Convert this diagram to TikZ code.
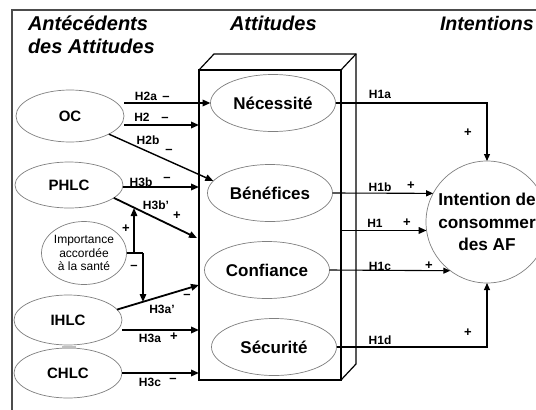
\documentclass[tikz,border=0pt]{standalone}
\usepackage{fontspec}
\setmainfont{Liberation Sans}
\usetikzlibrary{arrows.meta}
\usetikzlibrary{shapes.geometric}

\begin{document}
\begin{tikzpicture}[
            x=1pt, y=-1pt,
            every node/.style={inner sep=0pt, outer sep=0pt},
            title node/.style={anchor=base west, font=\fontsize{20}{23}\selectfont\bfseries\itshape},
            att node/.style={ellipse, draw=gray, line width=0.7pt, minimum width=125pt, minimum height=57pt, font=\fontsize{17}{19}\selectfont\bfseries},
            ante node/.style={ellipse, draw=gray, line width=0.7pt, minimum width=108pt, minimum height=50pt, font=\fontsize{15}{17}\selectfont\bfseries},
            hyp/.style={font=\fontsize{12}{14}\selectfont\bfseries},
            sgn/.style={font=\fontsize{13}{14}\selectfont\bfseries},
            arr/.style={-{Triangle[length=8pt,width=6.5pt]}, line width=1.8pt},
            thin arr/.style={-{Triangle[length=7pt,width=6pt]}, line width=1.1pt},
            ]
            \useasboundingbox (0,0) rectangle (536,410);
            \clip (0,0) rectangle (536,410);
            \fill[white] (0,0) rectangle (536,410);
            \draw[line width=2pt, gray!60!black] (12,415) -- (12,10) -- (545,10);

            \node[title node] (t1) at (28,30) {Antécédents};
            \node[title node] (t2) at (28,53) {des Attitudes};
            \node[title node] (t3) at (230,30) {Attitudes};
            \node[title node, font=\fontsize{19.6}{23}\selectfont\bfseries\itshape] (t4) at (440,30) {Intentions};

            % the box
            \node[draw, line width=1.2pt, minimum width=142pt, minimum height=310pt] (front) at (270,225) {};
            \draw[line width=1.2pt] (front.north west) -- ++(15,-16) -- ++(142,0) -- ++(0,310) -- ++(-15,16);
            \draw[line width=1.2pt] (front.north east) -- ++(15,-16);

            \node[att node] (nec) at (273,103) {Nécessité};
            \node[att node] (ben) at (270,193) {Bénéfices};
            \node[att node] (conf) at (267,270) {Confiance};
            \node[att node] (sec) at (274,347) {Sécurité};

            \node[ante node, minimum height=52pt] (oc) at (70,116) {OC};
            \node[ante node, minimum height=46pt] (phlc) at (69,185) {PHLC};
            \node[ellipse, draw=gray, line width=0.7pt, minimum width=85pt, minimum height=63pt, align=center, font=\fontsize{12}{13.5}\selectfont] (imp) at (84,253) {Importance\\accordée\\à la santé};
            \node[ante node] (ihlc) at (68,320) {IHLC};
            \node[ante node] (chlc) at (68,373) {CHLC};
            \fill[gray!50] (62,346) rectangle (76,349);

            \node[circle, draw=gray, line width=0.7pt, minimum size=122pt, align=center, font=\fontsize{17.2}{22.5}\selectfont\bfseries] (int) at (487,222) {Intention de\\consommer\\des AF};

            \coordinate (e2) at (199,125);
            \coordinate (e3b) at (199,187);
            \coordinate (e3bp) at (197,238);
            \coordinate (e3ap) at (199,285);
            \coordinate (e3a) at (199,330);
            \coordinate (m1) at (134,208);
            \coordinate (m2) at (143,302);

            \draw[arr] (oc.east |- nec.west) -- (nec.west);
            \draw[arr] (oc.east |- e2) -- (e2);
            \draw[arr, line width=1.4pt] (oc.-25) -- (ben.168);
            \draw[arr] (phlc.east |- e3b) -- (e3b);
            \draw[arr] (phlc.-16) -- (e3bp);
            \draw[arr] (ihlc.12) -- (e3ap);
            \draw[arr] (ihlc.east |- e3a) -- (e3a);
            \draw[arr] (chlc.east) -- (chlc.east -| front.west);

            \draw[line width=1.4pt] (imp.east) -- (m2 |- imp.east);
            \draw[arr, line width=1.4pt] (m1 |- imp.east) -- (m1);
            \draw[arr, line width=1.4pt] (m2 |- imp.east) -- (m2);

            \draw[thin arr] (nec.east) -| (int.north);
            \draw[thin arr] (ben.east) -- (int.152);
            \draw[arr] (int.188 -| front.east) -- (int.188);
            \draw[thin arr] (conf.east) -- (int.233);
            \draw[thin arr] (sec.east) -| (int.south);

            \node[hyp] (l2a) at (146,96) {H2a};
            \node[sgn] (s2a) at (166,98) {--};
            \node[hyp] (l2) at (142,117) {H2};
            \node[sgn] (s2) at (165,119) {--};
            \node[hyp] (l2b) at (148,140) {H2b};
            \node[sgn] (s2b) at (169,151) {--};
            \node[hyp] (l3b) at (141,182) {H3b};
            \node[sgn] (s3b) at (167,179) {--};
            \node[hyp] (l3bp) at (156,205) {H3b'};
            \node[sgn] (s3bp) at (177,216) {+};
            \node[sgn] (smp) at (126,229) {+};
            \node[sgn] (smm) at (134,267) {--};
            \node[hyp] (l3ap) at (162,309) {H3a'};
            \node[sgn] (s3ap) at (187,296) {--};
            \node[hyp] (l3a) at (150,338) {H3a};
            \node[sgn] (s3a) at (174,337) {+};
            \node[hyp] (l3c) at (150,382) {H3c};
            \node[sgn] (s3c) at (173,380) {--};

            \node[hyp] (l1a) at (380,94) {H1a};
            \node[sgn] (s1a) at (468,133) {+};
            \node[hyp] (l1b) at (380,187) {H1b};
            \node[sgn] (s1b) at (411,186) {+};
            \node[hyp] (l1) at (375,223) {H1};
            \node[sgn] (s1) at (407,223) {+};
            \node[hyp] (l1c) at (380,266) {H1c};
            \node[sgn] (s1c) at (429,266) {+};
            \node[hyp] (l1d) at (380,340) {H1d};
            \node[sgn] (s1d) at (468,333) {+};
        \end{tikzpicture}
\end{document}
